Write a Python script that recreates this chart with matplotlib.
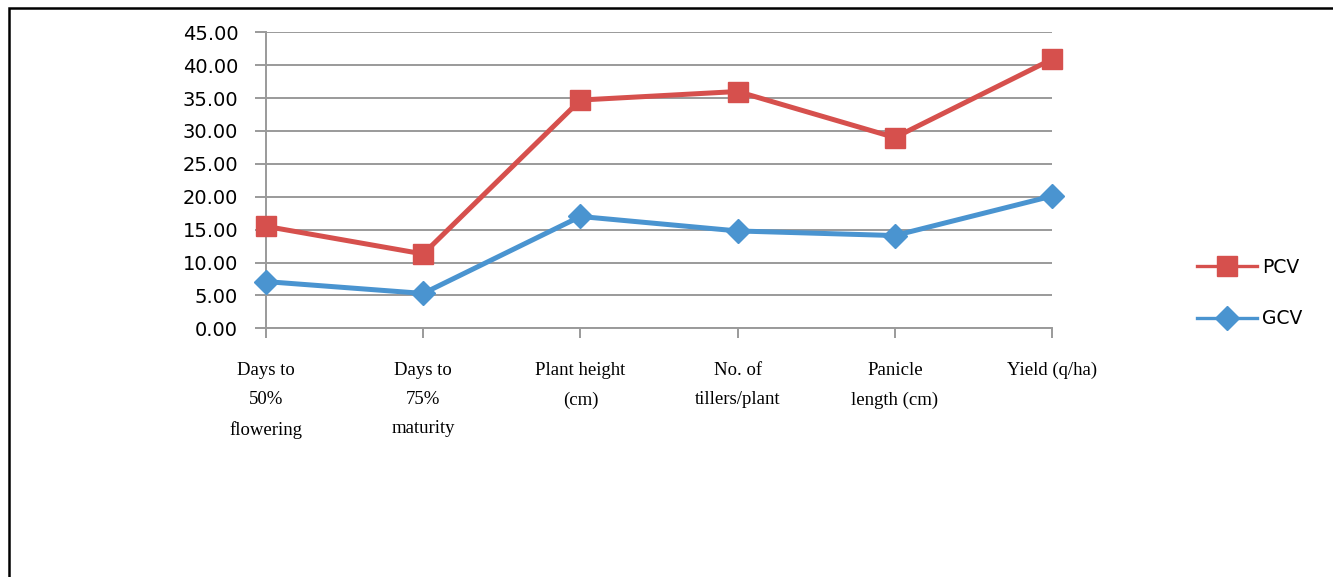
import matplotlib.pyplot as plt
from matplotlib.patches import Rectangle

# trait labels and coefficient-of-variation values (%)
traits = ['Days to\n50%\nflowering', 'Days to\n75%\nmaturity', 'Plant height\n(cm)',
          'No. of\ntillers/plant', 'Panicle\nlength (cm)', 'Yield (q/ha)']
pcv = [15.5, 11.3, 34.7, 36.0, 29.0, 40.9]
gcv = [7.1, 5.3, 17.0, 14.8, 14.1, 20.1]
y_ticks = [0, 5, 10, 15, 20, 25, 30, 35, 40, 45]

RED = '#D6504D'
BLUE = '#4A94D0'
GRID = '#9A9A9A'

fig = plt.figure(figsize=(13.33, 5.77), dpi=100)

# outer frame (only left and top edges fall inside the image)
fig.patches.append(Rectangle((9 / 1333, -0.2), 1.2, 1.2 - 8 / 577,
                             transform=fig.transFigure, fill=False,
                             edgecolor='black', linewidth=1.8))

ax = fig.add_axes([266 / 1333, 1 - 328.3 / 577, (1052 - 266) / 1333, (328.3 - 32.3) / 577])

x = list(range(len(traits)))
ax.plot(x, pcv, color=RED, linewidth=3.6, marker='s', markersize=14,
        label='PCV', clip_on=False, zorder=4)
ax.plot(x, gcv, color=BLUE, linewidth=3.6, marker='D', markersize=12.5,
        label='GCV', clip_on=False, zorder=4)

ax.set_xlim(0, len(traits) - 1)
ax.set_ylim(0, 45)
ax.set_yticks(y_ticks)
ax.set_yticklabels([f'{v:.2f}' for v in y_ticks], fontsize=14, family='DejaVu Sans')
ax.set_xticks(x)
ax.set_xticklabels(traits, fontsize=13.5, family='Liberation Serif', linespacing=1.95)

ax.yaxis.grid(True, color=GRID, linewidth=1.4)
ax.set_axisbelow(True)
for side in ['top', 'right']:
    ax.spines[side].set_visible(False)
for side in ['left', 'bottom']:
    ax.spines[side].set_color(GRID)
    ax.spines[side].set_linewidth(1.4)
ax.tick_params(axis='y', length=8, width=1.4, color=GRID, pad=12)
ax.tick_params(axis='x', length=7, width=1.4, color=GRID, pad=17)

leg = ax.legend(loc='center left', bbox_to_anchor=(1197 / 1333, 1 - 293 / 577),
                bbox_transform=fig.transFigure, frameon=False, fontsize=13.5,
                handlelength=3.2, handletextpad=0.25, labelspacing=1.75,
                borderpad=0, borderaxespad=0)
for h in leg.get_lines():
    h.set_linewidth(2.4)

fig.savefig('out.png', dpi=100)
